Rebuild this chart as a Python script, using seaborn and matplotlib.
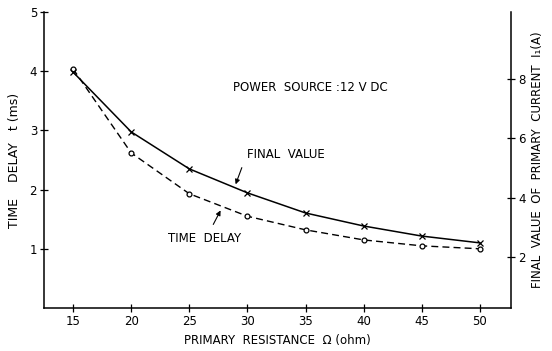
import matplotlib
matplotlib.use("Agg")
import matplotlib.pyplot as plt
import seaborn as sns
import pandas as pd

resistance = [15, 20, 25, 30, 35, 40, 45, 50]
time_delay = [4.04, 2.62, 1.93, 1.55, 1.32, 1.15, 1.05, 1.00]
final_value = [8.24, 6.22, 4.97, 4.16, 3.48, 3.04, 2.70, 2.47]
x_ticks = [15, 20, 25, 30, 35, 40, 45, 50]
left_ticks = [1, 2, 3, 4, 5]
right_ticks = [2, 4, 6, 8]

sns.set_style("ticks")
plt.rcParams['font.family'] = ['DejaVu Sans']
plt.rcParams['text.color'] = 'black'
plt.rcParams['axes.labelcolor'] = 'black'

df = pd.DataFrame({"R": resistance, "t": time_delay, "I": final_value})

fig = plt.figure(figsize=(5.52, 3.51), dpi=100)
ax = fig.add_axes([0.0797, 0.1225, 0.846, 0.8433])
ax2 = ax.twinx()

sns.lineplot(data=df, x="R", y="t", ax=ax, color="black", lw=1.0,
             marker="o", markersize=3.5, markerfacecolor="white",
             markeredgecolor="black", markeredgewidth=0.9)
ax.lines[0].set_dashes([5, 3])
sns.lineplot(data=df, x="R", y="I", ax=ax2, color="black", lw=1.1,
             marker="x", markersize=4.5, markeredgewidth=0.9,
             markeredgecolor="black")

ax.set_xlim(12.5, 52.67)
ax.set_ylim(0, 5.0)
ax2.set_ylim(0.27, 10.27)

ax.set_xticks(x_ticks)
ax.set_yticks(left_ticks)
ax2.set_yticks(right_ticks)

for a in (ax, ax2):
    a.spines['top'].set_visible(False)
    for s in a.spines.values():
        s.set_linewidth(1.1)
        s.set_color("black")
    a.tick_params(direction="inout", length=6, width=0.9, labelsize=8.5,
                  colors="black", pad=2)
ax.spines['right'].set_visible(False)
ax2.spines['left'].set_visible(False)
ax2.spines['bottom'].set_visible(False)

ax.set_xlabel("PRIMARY  RESISTANCE  \u03a9 (ohm)", fontsize=8.5, labelpad=4)
ax.set_ylabel("TIME    DELAY   t (ms)", fontsize=9, labelpad=6)
ax2.set_ylabel("FINAL  VALUE  OF  PRIMARY  CURRENT  I\u2081(A)", fontsize=8.5,
               rotation=90, labelpad=4)

ax.text(35.4, 3.73, "POWER  SOURCE :12 V DC", fontsize=8.5, ha="center", va="center")
ax2.text(30.0, 5.44, "FINAL  VALUE", fontsize=8.5, ha="left", va="center")
ax2.annotate("", xy=(28.9, 4.36), xytext=(29.6, 5.10),
             arrowprops=dict(arrowstyle="-|>", color="black", lw=0.8,
                             mutation_scale=7))
ax.text(26.3, 1.18, "TIME  DELAY", fontsize=8.5, ha="center", va="center")
ax.annotate("", xy=(27.8, 1.69), xytext=(26.95, 1.37),
            arrowprops=dict(arrowstyle="-|>", color="black", lw=0.8,
                            mutation_scale=7))

fig.savefig("out.png", dpi=100)
